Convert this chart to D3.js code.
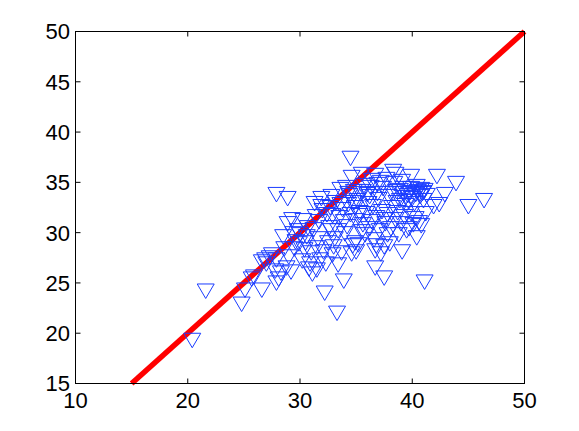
<!DOCTYPE html>
<html>
<head>
<meta charset="utf-8">
<script src="https://cdn.jsdelivr.net/npm/d3@7"></script>
<style>
  html, body { margin: 0; padding: 0; background: #fff; }
  text { font-family: "Liberation Sans", Arial, sans-serif; }
</style>
</head>
<body>
<div class="viewbox"></div>
<script>
// values
const xTicks = [10, 20, 30, 40, 50];
const yTicks = [15, 20, 25, 30, 35, 40, 45, 50];
const refLine = [15, 50]; // y = x

const xs = [
  20.4, 21.6, 24.8, 25.1, 25.7, 25.9, 26.6, 27.9, 27.9, 28.9, 32.2, 33.3, 33.9, 34.5, 36.7, 37.5, 39.1, 41.1, 40.4, 42.2,
  43.9, 45.0, 46.4, 42.9, 41.9, 42.4, 38.3, 38.5, 39.9, 35.5, 36.7, 34.6, 36.8, 37.5, 34.7, 34.9, 32.9, 31.5, 30.8, 30.9,
  28.8, 27.8, 27.3, 26.6, 28.5, 28.9, 29.3, 30.3, 31.3, 30.6, 31.9, 37.2, 40.3,
  27.5, 27.9, 28.3, 29.0, 29.5, 29.9, 30.0, 30.4, 31.0, 31.5, 31.8, 32.1, 32.5, 32.8, 33.1, 31.2, 31.7, 32.4, 32.0, 32.7,
  33.2, 33.5, 33.8, 34.2, 34.0, 34.4, 34.8, 35.1, 35.3, 35.6, 35.0, 35.8, 36.0, 36.3, 36.5, 36.8, 36.2, 37.0, 37.3, 37.6,
  37.8, 37.4, 37.9, 38.2, 38.5, 38.1, 38.6, 38.9, 39.2, 39.4, 39.0, 39.6, 39.8, 40.0, 40.2, 40.5, 40.7, 40.9, 41.1, 41.0,
  40.6, 39.5, 38.8, 39.3, 40.1, 36.4, 35.7, 34.1, 33.6, 32.8, 31.9, 31.4, 30.7, 29.8, 29.6, 28.6, 33.0, 33.7, 34.6, 35.2,
  35.9, 36.6, 37.1, 38.0, 32.3, 31.1, 30.2, 29.2, 28.1, 27.0, 26.9, 33.4, 34.3, 35.4, 36.9, 37.7, 38.4, 39.1, 40.4, 39.9,
  38.7, 37.5, 36.1, 34.9, 33.9, 32.6, 31.6, 30.5, 29.4, 33.4, 34.5, 35.5, 36.4, 37.8, 39.7, 40.8, 41.2, 36.7, 37.2, 35.0,
  38.3, 38.9, 39.4, 39.9, 40.3, 40.8, 41.3, 38.6, 39.2, 39.7, 40.6, 41.0, 34.3, 34.8, 35.6, 36.2, 33.6, 32.9, 35.3, 36.9
];
const ys = [
  19.3, 24.2, 22.9, 24.3, 25.4, 25.6, 24.3, 25.0, 33.8, 33.4, 24.0, 22.0, 25.2, 37.4, 26.5, 25.5, 28.1, 25.1, 29.5, 35.6,
  34.9, 32.6, 33.2, 33.8, 32.6, 32.8, 36.1, 35.8, 35.6, 35.8, 35.7, 35.5, 28.7, 28.6, 28.7, 29.0, 27.8, 26.3, 26.4, 26.9,
  26.5, 26.2, 27.5, 27.1, 29.6, 30.9, 31.3, 31.2, 32.9, 29.6, 32.6, 35.0, 31.4,
  27.8, 27.3, 26.0, 27.6, 28.4, 28.9, 29.8, 28.3, 28.0, 28.5, 27.3, 28.1, 29.0, 30.2, 29.4, 30.3, 31.1, 31.8, 32.2, 32.5,
  33.0, 31.5, 32.3, 30.6, 29.9, 33.7, 34.1, 33.2, 32.0, 30.8, 31.2, 29.8, 33.8, 34.5, 32.6, 31.5, 30.4, 33.3, 32.1, 30.9,
  29.8, 34.4, 33.6, 32.5, 31.3, 30.4, 34.1, 33.2, 34.4, 32.7, 30.9, 33.7, 34.0, 33.4, 32.9, 34.1, 33.6, 33.9, 34.2, 33.2,
  31.0, 30.2, 29.8, 31.6, 30.8, 35.2, 34.7, 34.5, 34.3, 33.6, 33.4, 31.6, 30.5, 30.2, 29.1, 28.4, 28.6, 28.0, 27.9, 28.8,
  31.9, 29.3, 30.2, 28.9, 26.9, 25.9, 27.2, 26.1, 25.4, 26.9, 27.3, 26.8, 32.8, 33.9, 34.8, 35.3, 34.9, 35.1, 34.6, 31.9,
  32.0, 31.3, 32.9, 32.5, 31.1, 30.5, 29.4, 29.0, 29.9, 30.2, 31.8, 30.1, 31.1, 31.8, 30.4, 30.7, 31.9, 28.2, 27.9, 28.1,
  33.9, 34.2, 33.5, 34.4, 33.8, 34.3, 33.7, 33.0, 33.9, 33.1, 33.9, 34.0, 33.9, 33.0, 34.1, 33.6, 32.8, 31.7, 31.7, 33.9
];

const points = xs.map((x, i) => ({ x: x, y: ys[i] }));

const width = 579;
const height = 431;

const svg = d3.select(".viewbox")
  .append("svg")
  .attr("width", width)
  .attr("height", height);

const x = d3.scaleLinear().domain([10, 50]).range([75.5, 524.5]);
const y = d3.scaleLinear().domain([15, 50]).range([383.5, 31.5]);

// red y = x line goes under the markers
svg.append("path")
  .datum(refLine)
  .attr("fill", "none")
  .attr("stroke", "#ff0000")
  .attr("stroke-width", 5.5)
  .attr("d", d3.line().x(d => x(d)).y(d => y(d)));

// downward triangles
const tri = "M-8.5,-7L8.5,-7L0,7.5Z";
svg.append("g")
  .selectAll("path")
  .data(points)
  .enter()
  .append("path")
  .attr("transform", d => `translate(${x(d.x)},${y(d.y)})`)
  .attr("d", tri)
  .attr("fill", "none")
  .attr("stroke", "#1a3cff")
  .attr("stroke-width", 1);

// box + inward ticks on all four sides (matlab style)
const tickLen = 5;
const axisColor = "#000";

svg.append("rect")
  .attr("x", x(10)).attr("y", y(50))
  .attr("width", x(50) - x(10)).attr("height", y(15) - y(50))
  .attr("fill", "none")
  .attr("stroke", axisColor)
  .attr("stroke-width", 1);

const ticks = svg.append("g").attr("stroke", axisColor).attr("stroke-width", 1);

xTicks.forEach(t => {
  ticks.append("line").attr("x1", x(t)).attr("x2", x(t)).attr("y1", y(15)).attr("y2", y(15) - tickLen);
  ticks.append("line").attr("x1", x(t)).attr("x2", x(t)).attr("y1", y(50)).attr("y2", y(50) + tickLen);
});
yTicks.forEach(t => {
  ticks.append("line").attr("x1", x(10)).attr("x2", x(10) + tickLen).attr("y1", y(t)).attr("y2", y(t));
  ticks.append("line").attr("x1", x(50)).attr("x2", x(50) - tickLen).attr("y1", y(t)).attr("y2", y(t));
});

svg.append("g")
  .selectAll("text")
  .data(xTicks)
  .enter()
  .append("text")
  .attr("x", d => x(d))
  .attr("y", 408)
  .attr("text-anchor", "middle")
  .style("font-size", "22px")
  .text(d => d);

svg.append("g")
  .selectAll("text")
  .data(yTicks)
  .enter()
  .append("text")
  .attr("x", 70)
  .attr("y", d => y(d))
  .attr("dy", "0.36em")
  .attr("text-anchor", "end")
  .style("font-size", "22px")
  .text(d => d);
</script>
</body>
</html>
